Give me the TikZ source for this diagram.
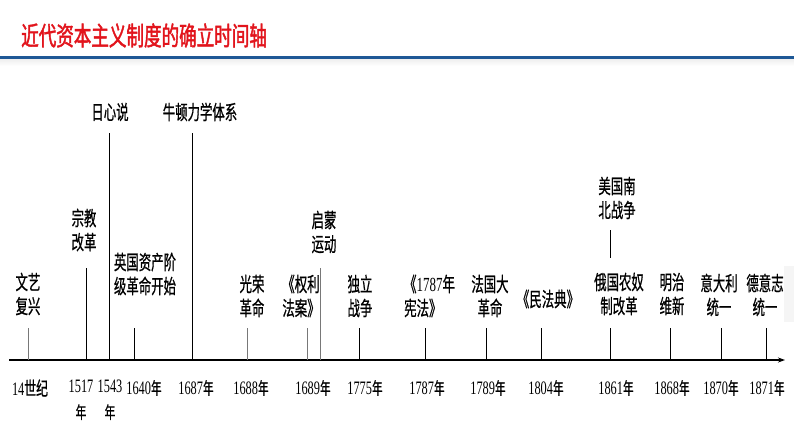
\documentclass[tikz,border=0pt]{standalone}
\usepackage{fontspec}
\usetikzlibrary{arrows.meta}
\newfontfamily\cjkf[FakeStretch=0.62,FakeBold=0.7]{Noto Sans CJK SC}
\newfontfamily\ttlf[FakeStretch=0.675,FakeBold=1.6]{Noto Sans CJK SC}
\newfontfamily\numf[FakeStretch=0.65]{Liberation Serif}
\definecolor{ttlred}{RGB}{226,20,28}
\definecolor{barblue}{RGB}{30,88,150}
\definecolor{tkgrey}{RGB}{120,120,120}
\newcommand{\nian}{{\cjkf\fontsize{17}{26}\selectfont 年}}
\newcommand{\nm}[1]{{\numf\fontsize{20}{24}\selectfont #1}}
\begin{document}
\begin{tikzpicture}[x=1pt,y=-1pt,
  lab/.style={font=\cjkf\fontsize{20}{24}\selectfont, align=center, inner sep=0pt},
  yr/.style={font=\numf\fontsize{19}{26}\selectfont, align=center, inner sep=0pt},
  tk/.style={line width=0.9pt, black},
  tkg/.style={line width=0.9pt, tkgrey},
  axisline/.style={line width=1.5pt, black, -{Stealth[length=7pt,width=5pt]}}]
\useasboundingbox (0,0) rectangle (794,447);
\fill[white] (0,0) rectangle (794,447);
% header
\node[anchor=west, inner sep=0pt, text=ttlred, font=\ttlf\fontsize{26}{30}\selectfont] (title) at (21,35.5) {近代资本主义制度的确立时间轴};
\fill[barblue] (0,56) rectangle (794,59.5);
\shade[top color=gray!12, bottom color=white] (0,59.5) rectangle (794,66);
\fill[gray!8] (784,266) rectangle (794,322);
% axis
\coordinate (ax0) at (9,360);
\coordinate (ax1) at (785,360);
\draw[axisline] (ax0) -- (ax1);
% event labels
\node[lab] (wenyi) at (28,294) {文艺\\复兴};
\node[lab] (zongjiao) at (84,230) {宗教\\改革};
\node[lab] (rixin) at (110,112) {日心说};
\node[lab] (niudun) at (200,112) {牛顿力学体系};
\node[lab] (yingguo) at (145,274) {英国资产阶\\级革命开始};
\node[lab] (guangrong) at (252,296) {光荣\\革命};
\node[lab] (quanli) at (301,296) {《权利\\法案》};
\node[lab] (qimeng) at (324,232) {启蒙\\运动};
\node[lab] (duli) at (360,296) {独立\\战争};
\node[lab, align=left, anchor=west] (xianfa) at (404,296) {《\nm{1787}年\\宪法》};
\node[lab] (faguo) at (490,296) {法国大\\革命};
\node[lab] (minfa) at (548,299) {《民法典》};
\node[lab] (meiguo) at (617,198) {美国南\\北战争};
\node[lab] (eguo) at (619,294) {俄国农奴\\制改革};
\node[lab] (mingzhi) at (672,294) {明治\\维新};
\node[lab] (yidali) at (719,295) {意大利\\统一};
\node[lab] (deyizhi) at (765,295) {德意志\\统一};
% year labels
\node[yr] (y14) at (30,388) {14{\cjkf\fontsize{19}{26}\selectfont 世纪}};
\node[yr] (y1517) at (81,400) {1517\\\nian};
\node[yr] (y1543) at (110,400) {1543\\\nian};
\node[yr] (y1640) at (144,388) {1640\nian};
\node[yr] (y1687) at (196,388) {1687\nian};
\node[yr] (y1688) at (251,388) {1688\nian};
\node[yr] (y1689) at (313,388) {1689\nian};
\node[yr] (y1775) at (365,388) {1775\nian};
\node[yr] (y1787) at (427,388) {1787\nian};
\node[yr] (y1789) at (488,388) {1789\nian};
\node[yr] (y1804) at (546,388) {1804\nian};
\node[yr] (y1861) at (616,388) {1861\nian};
\node[yr] (y1868) at (672,388) {1868\nian};
\node[yr] (y1870) at (721,388) {1870\nian};
\node[yr] (y1871) at (767,388) {1871\nian};
% tick tops and feet
\coordinate (a14) at (28,360);     \coordinate (b14) at (28,328);
\coordinate (a1517) at (86.7,360); \coordinate (b1517) at (86.7,268);
\coordinate (a1543) at (109.3,360);\coordinate (b1543) at (109.3,133);
\coordinate (a1640) at (134.3,360);\coordinate (b1640) at (134.3,328);
\coordinate (a1687) at (192.3,360);\coordinate (b1687) at (192.3,133);
\coordinate (a1688) at (247.7,360);\coordinate (b1688) at (247.7,328);
\coordinate (a1689) at (307.7,360);\coordinate (b1689) at (307.7,328);
\coordinate (a1689b) at (320.7,360);\coordinate (b1689b) at (320.7,268);
\coordinate (a1775) at (359.3,360);\coordinate (b1775) at (359.3,328);
\coordinate (a1787) at (425,360);  \coordinate (b1787) at (425,328);
\coordinate (a1789) at (486.7,360);\coordinate (b1789) at (486.7,328);
\coordinate (a1804) at (541.7,360);\coordinate (b1804) at (541.7,328);
\coordinate (a1861) at (610.7,360);\coordinate (b1861) at (610.7,328);
\coordinate (c1861) at (610.7,258);\coordinate (d1861) at (610.7,230);
\coordinate (a1868) at (670.3,360);\coordinate (b1868) at (670.3,328);
\coordinate (a1870) at (721.3,360);\coordinate (b1870) at (721.3,328);
\coordinate (a1871) at (766.7,360);\coordinate (b1871) at (766.7,328);
% ticks
\draw[tkg] (b14) -- (a14);
\draw[tk] (b1517) -- (a1517);
\draw[tk] (b1543) -- (a1543);
\draw[tk] (b1640) -- (a1640);
\draw[tk] (b1687) -- (a1687);
\draw[tkg] (b1688) -- (a1688);
\draw[tkg] (b1689) -- (a1689);
\draw[tkg] (b1689b) -- (a1689b);
\draw[tk] (b1775) -- (a1775);
\draw[tk] (b1787) -- (a1787);
\draw[tk] (b1789) -- (a1789);
\draw[tk] (b1804) -- (a1804);
\draw[tk] (b1861) -- (a1861);
\draw[tk] (d1861) -- (c1861);
\draw[tk] (b1868) -- (a1868);
\draw[tk] (b1870) -- (a1870);
\draw[tk] (b1871) -- (a1871);
\end{tikzpicture}
\end{document}
